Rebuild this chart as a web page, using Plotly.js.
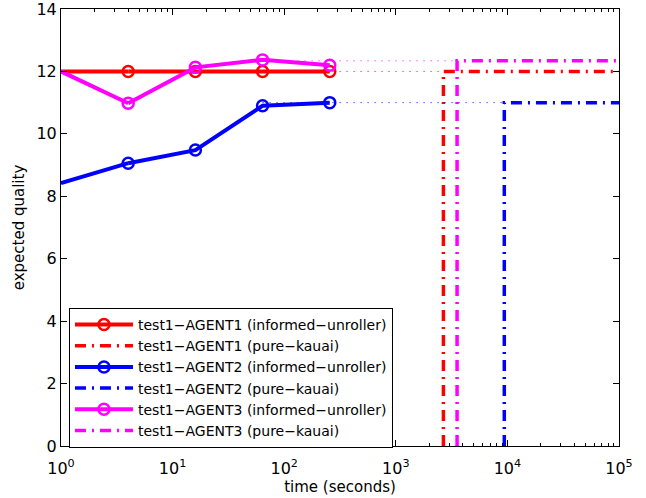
<!DOCTYPE html>
<html>
<head>
<meta charset="utf-8">
<script src="https://cdn.plot.ly/plotly-3.0.1.min.js"></script>
<style>html,body{margin:0;padding:0;background:#fff;}#chart{width:646px;height:498px;}</style>
</head>
<body>
<div id="chart"></div>
<script>
// informed-unroller runs
var times = [1, 4, 16, 64, 256];
var agent1Informed = [12.0, 12.0, 12.0, 12.0, 12.0];
var agent2Informed = [8.42, 9.06, 9.48, 10.90, 11.0];
var agent3Informed = [12.0, 10.98, 12.13, 12.37, 12.2];
// pure-kauai: finishing time and final quality
var pureTimes = [2670, 9380, 3540];
var pureValues = [12.0, 11.0, 12.34];
var seriesNames = ['test1\u2212AGENT1', 'test1\u2212AGENT2', 'test1\u2212AGENT3'];
var informedSeries = [agent1Informed, agent2Informed, agent3Informed];
var xEnd = 100000;
var dottedStart = 64;
var xTickVals = [1, 10, 100, 1000, 10000, 100000];
var xTickText = ['10<sup>0</sup>', '10<sup>1</sup>', '10<sup>2</sup>', '10<sup>3</sup>', '10<sup>4</sup>', '10<sup>5</sup>'];
var yTickVals = [0, 2, 4, 6, 8, 10, 12, 14];

var colors = ['#ff0000', '#0000ff', '#ff00ff'];
var minorVals = [];
for (var d = 0; d < 5; d++) {
  for (var m = 2; m <= 9; m++) minorVals.push(m * Math.pow(10, d));
}

var traces = [];
for (var i = 0; i < 3; i++) {
  var ys = informedSeries[i];
  traces.push({
    x: [dottedStart, pureTimes[i]], y: [pureValues[i], pureValues[i]],
    mode: 'lines', showlegend: false, hoverinfo: 'skip',
    line: {color: colors[i], width: 1, dash: '1px,6px'}
  });
  traces.push({
    x: times.slice(0, 2), y: ys.slice(0, 2),
    mode: 'lines', showlegend: false,
    line: {color: colors[i], width: 4}
  });
  traces.push({
    x: times.slice(1), y: ys.slice(1),
    mode: 'lines+markers', name: seriesNames[i] + ' (informed\u2212unroller)',
    line: {color: colors[i], width: 4},
    marker: {symbol: 'circle-open', size: 11, color: colors[i], line: {width: 2.5, color: colors[i]}}
  });
  traces.push({
    x: [pureTimes[i], pureTimes[i], xEnd], y: [0, pureValues[i], pureValues[i]],
    mode: 'lines', name: seriesNames[i] + ' (pure\u2212kauai)',
    line: {color: colors[i], width: 3.5, dash: '11px,6px,2px,6px'}
  });
}

var layout = {
  width: 646, height: 498,
  margin: {l: 61, r: 27, t: 9, b: 52},
  paper_bgcolor: '#fff', plot_bgcolor: '#fff',
  font: {family: 'DejaVu Sans, sans-serif', size: 15, color: '#000'},
  showlegend: true,
  legend: {
    x: 0.0143, y: 0.316, xanchor: 'left', yanchor: 'top',
    bgcolor: '#fff', bordercolor: '#000', borderwidth: 1,
    font: {size: 14, color: '#000'}, tracegroupgap: 0, itemwidth: 58
  },
  xaxis: {
    type: 'log', range: [0, 5],
    tickmode: 'array', tickvals: xTickVals, ticktext: xTickText,
    ticks: 'inside', ticklen: 6, tickcolor: '#000', tickwidth: 1,
    minor: {tickmode: 'array', tickvals: minorVals, ticks: 'inside', ticklen: 3, tickcolor: '#000', tickwidth: 1, showgrid: false},
    showline: true, linecolor: '#000', linewidth: 1, mirror: 'ticks',
    showgrid: false, zeroline: false,
    tickfont: {size: 16}, ticklabelstandoff: 8, ticklabeloverflow: 'allow',
    title: {text: 'time (seconds)', font: {size: 15}, standoff: 2}
  },
  yaxis: {
    range: [0, 14], tickmode: 'array', tickvals: yTickVals,
    ticks: 'inside', ticklen: 6, tickcolor: '#000', tickwidth: 1,
    showline: true, linecolor: '#000', linewidth: 1, mirror: 'ticks',
    showgrid: false, zeroline: false,
    tickfont: {size: 16}, ticklabeloverflow: 'allow',
    title: {text: 'expected quality', font: {size: 15}, standoff: 8}
  }
};

Plotly.newPlot('chart', traces, layout, {displayModeBar: false, staticPlot: true});
</script>
</body>
</html>
